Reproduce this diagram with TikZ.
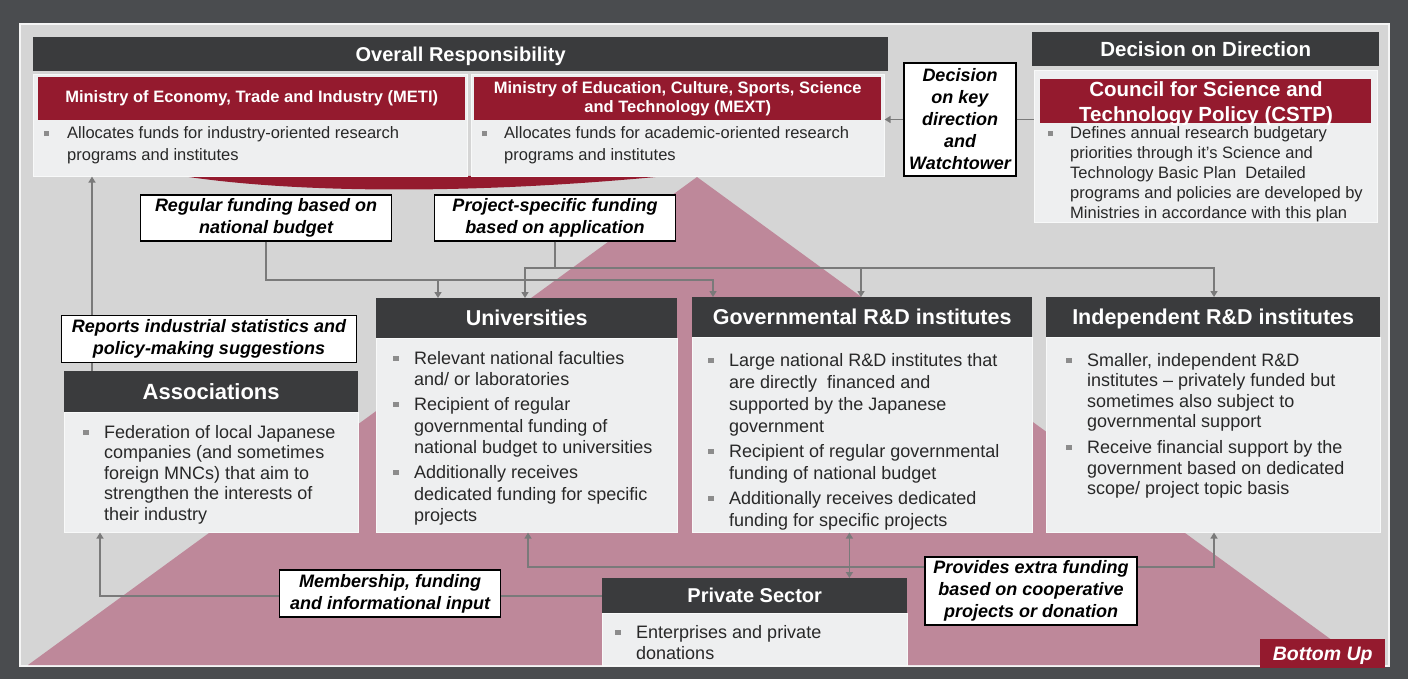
\documentclass[tikz,border=0pt]{standalone}
\usepackage{fontspec}
\setmainfont{Liberation Sans}
\usepackage{array}
\usetikzlibrary{arrows.meta}
\definecolor{framec}{RGB}{74,76,79}
\definecolor{panelc}{RGB}{213,213,213}
\definecolor{pinkc}{RGB}{190,136,154}
\definecolor{hdrc}{RGB}{58,59,61}
\definecolor{crimson}{RGB}{148,26,46}
\definecolor{bodyc}{RGB}{238,239,240}
\definecolor{connc}{RGB}{122,122,122}
\definecolor{bulg}{RGB}{140,140,140}
\definecolor{txtc}{RGB}{40,40,40}
\newcommand{\bsq}{\textcolor{bulg}{\rule[0.17em]{0.3em}{0.3em}}}
\begin{document}
\begin{tikzpicture}[x=1pt,y=1pt,
  hdr/.style={fill=hdrc, text=white, inner sep=0pt, anchor=north west, text height=15pt, text depth=0pt, font=\fontsize{21.5}{24}\selectfont\bfseries},
  redh/.style={fill=crimson, text=white, inner sep=0pt, anchor=north west, align=center, font=\fontsize{16.5}{19.5}\selectfont\bfseries},
  bodybox/.style={fill=bodyc, inner sep=0pt, anchor=north west, draw=white!60!bodyc, line width=0.6pt},
  lbl/.style={draw=black, fill=white, line width=1.3pt, inner sep=0pt, align=center, font=\fontsize{18}{22}\selectfont\bfseries\itshape},
  btxt/.style={inner sep=0pt, anchor=base west, text=txtc, font=\fontsize{18}{21.5}\selectfont},
  cl/.style={draw=connc, line width=1.8pt},
  cla/.style={cl, -{Triangle[length=6pt,width=7pt]}},
  clb/.style={cl, {Triangle[length=6pt,width=7pt]}-{Triangle[length=6pt,width=7pt]}},
]
% background
\fill[framec] (0,0) rectangle (1408,-679);
\useasboundingbox (0,0) rectangle (1408,-679);
\fill[panelc] (20,-24) rectangle (1389,-666);
\draw[white!75!panelc, line width=2pt] (20,-24) rectangle (1389,-666);
\fill[pinkc] (697,-177) -- (28,-665) -- (1366,-665) -- cycle;
\fill[crimson] (182,-176) .. controls (300,-194) and (480,-194) .. (666,-176) -- cycle;

% top: ministries
\node[hdr, minimum width=855pt, minimum height=34pt, text height=14pt, font=\fontsize{20}{24}\selectfont\bfseries] (overall) at (33,-37) {Overall Responsibility};
\node[bodybox, minimum width=434pt, minimum height=102pt] (metib) at (33,-74) {};
\node[redh, minimum width=427pt, minimum height=43pt] (meti) at (38,-77) {Ministry of Economy, Trade and Industry (METI)};
\node[btxt, font=\fontsize{16.5}{22}\selectfont] (metit) at (44,-139) {\begin{tabular}[t]{@{}p{23pt}@{}l@{}}\bsq & Allocates funds for industry-oriented research\\ & programs and institutes\end{tabular}};
\node[bodybox, minimum width=413pt, minimum height=102pt] (mextb) at (471,-74) {};
\node[redh, minimum width=407pt, minimum height=43pt] (mext) at (474,-77) {Ministry of Education, Culture, Sports, Science\\and Technology (MEXT)};
\node[btxt, font=\fontsize{16.5}{22}\selectfont] (mextt) at (482,-139) {\begin{tabular}[t]{@{}p{22pt}@{}l@{}}\bsq & Allocates funds for academic-oriented research\\ & programs and institutes\end{tabular}};

% top right: CSTP
\node[hdr, minimum width=347pt, minimum height=34pt, text height=14.5pt, font=\fontsize{20.5}{24}\selectfont\bfseries] (dod) at (1032,-32) {Decision on Direction};
\node[bodybox, minimum width=343pt, minimum height=152pt] (cstpb) at (1034,-70) {};
\node[redh, minimum width=331pt, minimum height=44pt] (cstp) at (1040,-79) {};
\node[inner sep=0pt, anchor=base, text=white, font=\fontsize{20.5}{25}\selectfont\bfseries] (cstpt) at (1206,-97) {\begin{tabular}[t]{@{}c@{}}Council for Science and\\Technology Policy (CSTP)\end{tabular}};
\node[btxt, font=\fontsize{16.5}{20}\selectfont] (cstptx) at (1048,-139) {\begin{tabular}[t]{@{}p{22pt}@{}l@{}}\bsq & Defines annual research budgetary\\ & priorities through it's Science and\\ & Technology Basic Plan\ \ Detailed\\ & programs and policies are developed by\\ & Ministries in accordance with this plan\end{tabular}};
\node[lbl, minimum width=112pt, minimum height=113pt] (dk) at (960,-119.5) {Decision\\on key\\direction\\and\\Watchtower};

% funding labels
\node[lbl, minimum width=251pt, minimum height=46pt] (reg) at (266,-218) {Regular funding based on\\national budget};
\node[lbl, minimum width=241pt, minimum height=46pt] (proj) at (555,-218) {Project-specific funding\\based on application};

% middle row
\node[hdr, minimum width=301pt, minimum height=40pt] (unih) at (376,-298) {Universities};
\node[bodybox, minimum width=301pt, minimum height=194pt] (unib) at (376,-338) {};
\node[btxt] (unit) at (393,-364) {\begin{tabular}[t]{@{}p{21pt}@{}l@{}}\bsq & Relevant national faculties\\ & and/ or laboratories\\[3.5pt]
\bsq & Recipient of regular\\ & governmental funding of\\ & national budget to universities\\[3.5pt]
\bsq & Additionally receives\\ & dedicated funding for specific\\ & projects\end{tabular}};

\node[hdr, minimum width=340pt, minimum height=40pt] (govh) at (692,-297) {Governmental R\&D institutes};
\node[bodybox, minimum width=340pt, minimum height=195pt] (govb) at (692,-337) {};
\node[btxt, font=\fontsize{18}{22}\selectfont] (govt) at (708,-366) {\begin{tabular}[t]{@{}p{21pt}@{}l@{}}\bsq & Large national R\&D institutes that\\ & are directly\ \ financed and\\ & supported by the Japanese\\ & government\\[3pt]
\bsq & Recipient of regular governmental\\ & funding of national budget\\[3pt]
\bsq & Additionally receives dedicated\\ & funding for specific projects\end{tabular}};

\node[hdr, minimum width=334pt, minimum height=40pt] (indh) at (1046,-297) {Independent R\&D institutes};
\node[bodybox, minimum width=334pt, minimum height=195pt] (indb) at (1046,-337) {};
\node[btxt, font=\fontsize{18}{20.5}\selectfont] (indt) at (1066,-366) {\begin{tabular}[t]{@{}p{21pt}@{}l@{}}\bsq & Smaller, independent R\&D\\ & institutes \textendash{} privately funded but\\ & sometimes also subject to\\ & governmental support\\[5.5pt]
\bsq & Receive financial support by the\\ & government based on dedicated\\ & scope/ project topic basis\end{tabular}};

\node[hdr, minimum width=294pt, minimum height=41pt, font=\fontsize{22}{24}\selectfont\bfseries] (asch) at (64,-371) {Associations};
\node[bodybox, minimum width=294pt, minimum height=120pt] (ascb) at (64,-412) {};
\node[btxt, font=\fontsize{18}{20.5}\selectfont] (asct) at (83,-438) {\begin{tabular}[t]{@{}p{21pt}@{}l@{}}\bsq & Federation of local Japanese\\ & companies (and sometimes\\ & foreign MNCs) that aim to\\ & strengthen the interests of\\ & their industry\end{tabular}};

% bottom
\node[hdr, minimum width=305pt, minimum height=35pt, text height=14pt, font=\fontsize{20}{24}\selectfont\bfseries] (prih) at (602,-578) {Private Sector};
\node[bodybox, minimum width=305pt, minimum height=52pt] (prib) at (602,-613) {};
\node[btxt, font=\fontsize{18}{21}\selectfont] (prit) at (615,-638) {\begin{tabular}[t]{@{}p{21pt}@{}l@{}}\bsq & Enterprises and private\\ & donations\end{tabular}};
\node[fill=crimson, text=white, inner sep=0pt, anchor=north west, minimum width=125pt, minimum height=29pt, text height=14pt, text depth=0pt, font=\fontsize{19.5}{22}\selectfont\bfseries\itshape] (bu) at (1260,-639) {Bottom Up};

% connectors
\coordinate (ru) at (438,-280);
\coordinate (rg) at (713,-280);
\draw[cla] (reg.south) |- (rg) -- (rg |- govh.north);
\draw[cla] (ru) -- (ru |- unih.north);
\coordinate (pu) at (525,-268);
\coordinate (pg) at (861,-268);
\coordinate (pi) at (1214,-268);
\draw[cla] (proj.south) |- (pu) -- (pu |- unih.north);
\draw[cla] (proj.south) |- (pi) -- (pi |- indh.north);
\draw[cla] (pg) -- (pg |- govh.north);
\draw[cl] (dk.east) -- (dk.east -| cstpb.west);
\draw[cla] (dk.west) -- (dk.west -| mextb.east);
\draw[cla] ([xshift=28pt]asch.north west) -- ([xshift=28pt]asch.north west |- metib.south);
\draw[cla] (prih.west) -| ([xshift=36pt]ascb.south west);
\coordinate (bu1) at (528,-567);
\coordinate (bi) at (1214,-567);
\draw[clb] (bu1 |- unib.south) -- (bu1) -- (bi) -- (bi |- indb.south);
\draw[clb] ([xshift=-58pt]prih.north east) -- ([xshift=-58pt]prih.north east |- govb.south);

% labels over connectors
\node[lbl, minimum width=295pt, minimum height=47pt] (rep) at (209,-339) {Reports industrial statistics and\\policy-making suggestions};
\node[lbl, minimum width=221pt, minimum height=47pt] (mem) at (390,-593.5) {Membership, funding\\and informational input};
\node[lbl, minimum width=212pt, minimum height=68pt] (prov) at (1031,-591) {Provides extra funding\\based on cooperative\\projects or donation};
\end{tikzpicture}
\end{document}
